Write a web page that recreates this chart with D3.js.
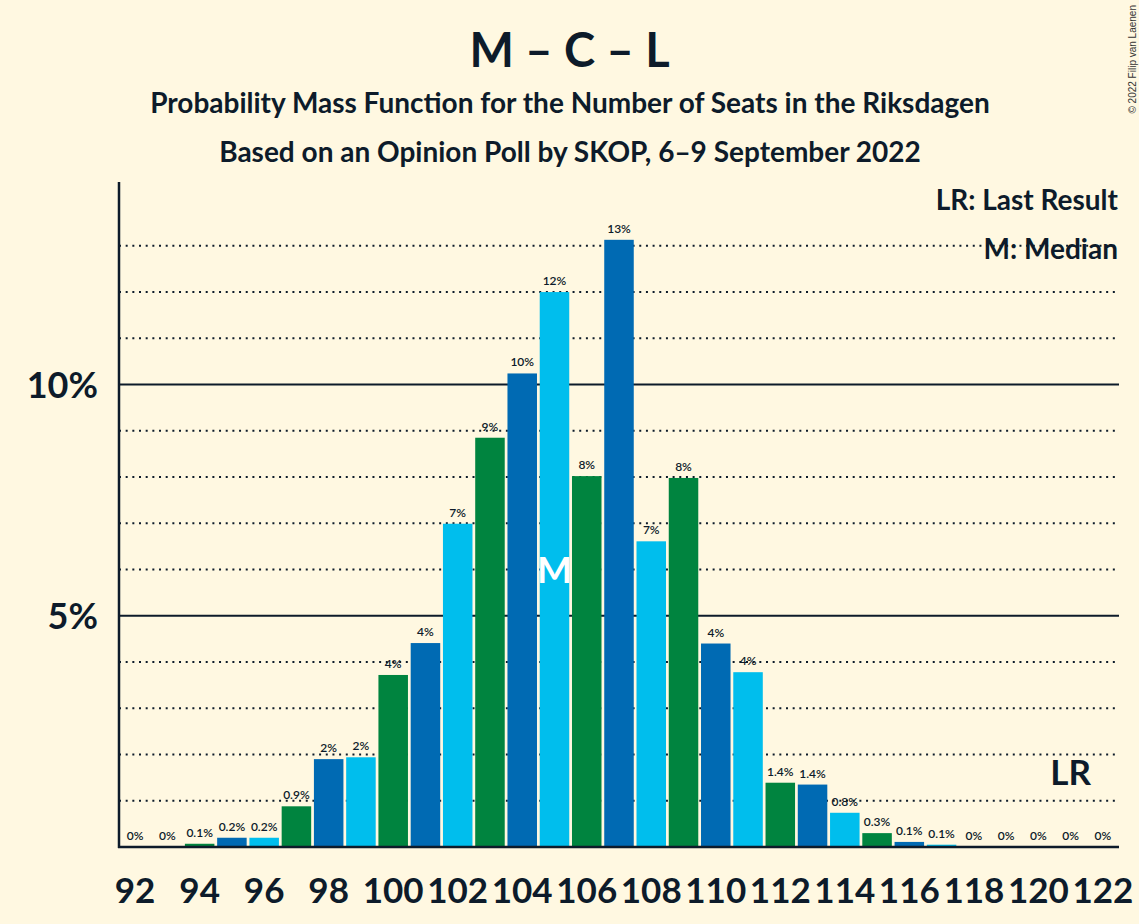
<!DOCTYPE html>
<html>
<head>
<meta charset="utf-8">
<script src="https://cdn.jsdelivr.net/npm/d3@7"></script>
<style>
  html, body { margin: 0; padding: 0; background: #FFF8E1; }
  svg { display: block; }
  text { font-family: Lato, "Open Sans", sans-serif; fill: #0d1b2a; }
</style>
</head>
<body>
<svg id="chart" width="1139" height="924"></svg>
<script>
// ---- data ----
const seats = d3.range(92, 123);
const probabilities = [0, 0, 0.07, 0.2, 0.2, 0.88, 1.9, 1.94, 3.72, 4.41, 6.99, 8.85, 10.24, 12.0, 8.02, 13.13, 6.61,
  7.98, 4.40, 3.78, 1.39, 1.35, 0.74, 0.30, 0.11, 0.05, 0, 0, 0, 0, 0];
const barLabels = ["0%", "0%", "0.1%", "0.2%", "0.2%", "0.9%", "2%", "2%", "4%", "4%", "7%", "9%", "10%", "12%", "8%", "13%", "7%",
  "8%", "4%", "4%", "1.4%", "1.4%", "0.8%", "0.3%", "0.1%", "0.1%", "0%", "0%", "0%", "0%", "0%"];
const partyColors = ["#00BEED", "#00843F", "#006AB3"]; // by seat mod 3
const xTickLabels = d3.range(92, 123, 2);
const yTicksMajor = [5, 10];
const yTicksMinor = [1, 2, 3, 4, 6, 7, 8, 9, 11, 12, 13];
const medianSeat = 105;
const lastResultSeat = 121;
const title = "M – C – L";
const subtitle1 = "Probability Mass Function for the Number of Seats in the Riksdagen";
const subtitle2 = "Based on an Opinion Poll by SKOP, 6–9 September 2022";
const legendLines = ["LR: Last Result", "M: Median"];
const copyright = "© 2022 Filip van Laenen";

// ---- layout ----
const svg = d3.select("#chart");
const W = 1139, H = 924;
const mLeft = 119, mRight = 1119, mBottom = 847, mTop = 182;
const ink = "#0d1b2a";

const x = d3.scaleBand().domain(seats).range([mLeft, mRight]).paddingInner(0.085).paddingOuter(0.0425);
const y = d3.scaleLinear().domain([0, 14.38]).range([mBottom, mTop]);

// background
svg.append("rect").attr("width", W).attr("height", H).attr("fill", "#FFF8E1");

// gridlines
svg.append("g").selectAll("line").data(yTicksMinor).join("line")
  .attr("x1", mLeft).attr("x2", mRight)
  .attr("y1", d => y(d)).attr("y2", d => y(d))
  .attr("stroke", ink).attr("stroke-width", 2).attr("stroke-dasharray", "2,4.67");
svg.append("g").selectAll("line").data(yTicksMajor).join("line")
  .attr("x1", mLeft).attr("x2", mRight)
  .attr("y1", d => y(d)).attr("y2", d => y(d))
  .attr("stroke", ink).attr("stroke-width", 2);

// bars
const data = seats.map((s, i) => ({ seat: s, p: probabilities[i], label: barLabels[i] }));
svg.append("g").selectAll("rect").data(data).join("rect")
  .attr("x", d => x(d.seat)).attr("width", x.bandwidth())
  .attr("y", d => y(d.p)).attr("height", d => y(0) - y(d.p))
  .attr("fill", d => partyColors[d.seat % 3]);

// bar labels
svg.append("g").selectAll("text").data(data).join("text")
  .attr("x", d => x(d.seat) + x.bandwidth() / 2)
  .attr("y", d => y(d.p) - 7)
  .attr("text-anchor", "middle")
  .attr("font-size", 12)
  .attr("font-weight", 600)
  .text(d => d.label);

// median marker
const med = data.find(d => d.seat === medianSeat);
svg.append("text")
  .attr("x", x(medianSeat) + x.bandwidth() / 2)
  .attr("y", (y(med.p) + y(0)) / 2 + 13)
  .attr("text-anchor", "middle").attr("font-size", 37).attr("font-weight", 700)
  .style("fill", "#FFFFFF").text("M");

// last result marker
svg.append("text")
  .attr("x", x(lastResultSeat) + x.bandwidth() / 2)
  .attr("y", y(1.34))
  .attr("text-anchor", "middle").attr("font-size", 35).attr("font-weight", 700)
  .text("LR");

// axes
svg.append("line").attr("x1", mLeft).attr("x2", mLeft).attr("y1", mTop).attr("y2", mBottom + 1)
  .attr("stroke", ink).attr("stroke-width", 2.5);
svg.append("line").attr("x1", mLeft - 1).attr("x2", mRight).attr("y1", mBottom).attr("y2", mBottom)
  .attr("stroke", ink).attr("stroke-width", 2.5);

// y tick labels
svg.append("g").selectAll("text").data(yTicksMajor).join("text")
  .attr("x", 98).attr("y", d => y(d) + 13)
  .attr("text-anchor", "end").attr("font-size", 36).attr("font-weight", 700)
  .text(d => d + "%");

// x tick labels
svg.append("g").selectAll("text").data(xTickLabels).join("text")
  .attr("x", d => x(d) + x.bandwidth() / 2).attr("y", 903)
  .attr("text-anchor", "middle").attr("font-size", 35).attr("font-weight", 700)
  .text(d => d);

// titles
svg.append("text").attr("x", W / 2).attr("y", 67).attr("text-anchor", "middle")
  .attr("font-size", 47).attr("font-weight", 700).text(title);
svg.append("text").attr("x", 570).attr("y", 113).attr("text-anchor", "middle")
  .attr("font-size", 28).attr("font-weight", 700).text(subtitle1);
svg.append("text").attr("x", 570).attr("y", 162).attr("text-anchor", "middle")
  .attr("font-size", 28).attr("font-weight", 700).text(subtitle2);

// legend
svg.append("g").selectAll("text").data(legendLines).join("text")
  .attr("x", 1118).attr("y", (d, i) => 210 + i * 49)
  .attr("text-anchor", "end").attr("font-size", 28).attr("font-weight", 700)
  .text(d => d);

// copyright
svg.append("text")
  .attr("transform", "translate(1136,5) rotate(-90)")
  .attr("text-anchor", "end")
  .style("font-family", "'Liberation Sans', Arial, sans-serif")
  .attr("font-size", 10).style("fill", "#333").text(copyright);
</script>
</body>
</html>
